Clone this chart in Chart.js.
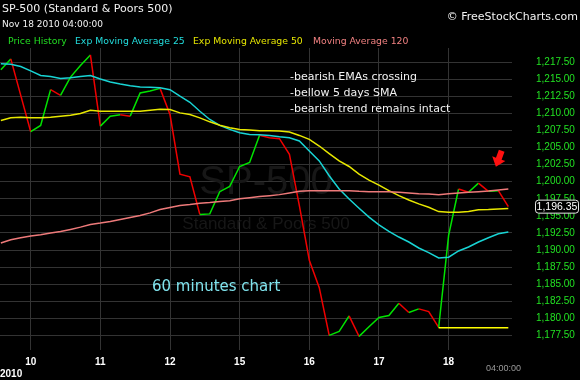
<!DOCTYPE html>
<html lang="en">
  <head>
    <meta charset="UTF-8" />
    <title>SP-500 60 minutes chart</title>
    <style>
      html,
      body {
        margin: 0;
        padding: 0;
        background: #000;
      }
      .chart-box {
        position: relative;
        width: 580px;
        height: 380px;
      }
    </style>
  </head>
  <body>
    <div class="chart-box"><canvas id="spChart"></canvas></div>

    <script src="https://cdn.jsdelivr.net/npm/chart.js"></script>
    <script>
      // trading days shown (Nov 2010), 7 hourly bars each, 3 bars of the 9th before
      const days = ["10", "11", "12", "15", "16", "17", "18"];
      const barsPerDay = 7;
      const firstDayBar = 3;

      const yTicks = [
        1177.5, 1180, 1182.5, 1185, 1187.5, 1190, 1192.5, 1195, 1197.5, 1200,
        1202.5, 1205, 1207.5, 1210, 1212.5, 1215, 1217.5,
      ];

      const price = [
        1216.38, 1217.98, 1212.65, 1207.32, 1208.24, 1213.48, 1212.65, 1215.32, 1217.02, 1218.57,
        1208.14, 1209.6, 1209.8, 1209.6, 1212.99, 1213.28, 1213.67, 1209.84, 1201.11, 1200.72,
        1195.2, 1195.29, 1198.54, 1199.32, 1202.23, 1202.81, 1206.8, 1206.45, 1206.3, 1204.02,
        1196.5, 1188.51, 1184.48, 1177.5, 1178.08, 1180.36, 1177.35, 1178.76, 1180.12, 1180.41,
        1182.2, 1180.85, 1181.38, 1180.99, 1178.66, 1192.14, 1198.93, 1198.45, 1199.8, 1198.59,
        1198.69, 1196.35,
      ];

      const ema25 = [
        1217.26, 1217.21, 1216.87, 1216.24, 1215.56, 1215.42, 1215.12, 1215.22, 1215.42, 1215.56,
        1215.03, 1214.59, 1214.3, 1214.06, 1213.86, 1213.82, 1213.77, 1213.48, 1212.52, 1211.63,
        1210.32, 1209.11, 1208.24, 1207.66, 1207.17, 1206.93, 1206.88, 1206.78, 1206.59, 1206.45,
        1205.96, 1204.51, 1203.05, 1200.87, 1198.93, 1197.48, 1196.12, 1194.81, 1193.69, 1192.72,
        1191.9, 1191.17, 1190.3, 1189.62, 1188.84, 1188.94, 1189.86, 1190.44, 1191.17, 1191.8,
        1192.38, 1192.63,
      ];

      const ema50 = [
        1208.97, 1209.35, 1209.45, 1209.35, 1209.35, 1209.45, 1209.6, 1209.74, 1209.98, 1210.47,
        1210.32, 1210.32, 1210.32, 1210.32, 1210.32, 1210.47, 1210.61, 1210.57, 1210.08, 1209.84,
        1209.35, 1208.77, 1208.28, 1207.9, 1207.66, 1207.56, 1207.46, 1207.46, 1207.42, 1207.27,
        1206.78, 1206.2, 1205.23, 1204.12, 1203.05, 1202.23, 1201.11, 1200.24, 1199.51, 1198.69,
        1197.96, 1197.33, 1196.75, 1196.26, 1195.63, 1195.53, 1195.53, 1195.63, 1195.88, 1195.92,
        1196.02, 1196.07,
      ];

      const ma120 = [
        1191.03, 1191.51, 1191.8, 1192.05, 1192.24, 1192.48, 1192.72, 1193.02, 1193.35, 1193.74,
        1193.94, 1194.18, 1194.47, 1194.76, 1195.05, 1195.44, 1195.92, 1196.22, 1196.51, 1196.65,
        1196.85, 1196.94, 1197.09, 1197.23, 1197.52, 1197.67, 1197.82, 1197.96, 1198.11, 1198.35,
        1198.59, 1198.69, 1198.69, 1198.69, 1198.69, 1198.69, 1198.59, 1198.54, 1198.54, 1198.54,
        1198.45, 1198.35, 1198.25, 1198.2, 1198.11, 1198.25, 1198.35, 1198.45, 1198.54, 1198.64,
        1198.78, 1198.93,
      ];

      // flat support line drawn from the Nov 17 low
      const supportFrom = 44;
      const supportLevel = 1178.6;

      const notes = [
        "-bearish EMAs crossing",
        "-bellow 5 days SMA",
        "-bearish trend remains intact",
      ];

      const legendItems = [
        { text: "Price History", color: "#22dd22", x: 8 },
        { text: "Exp Moving Average 25", color: "#22dddd", x: 75 },
        { text: "Exp Moving Average 50", color: "#e4e400", x: 193 },
        { text: "Moving Average 120", color: "#f08080", x: 313 },
      ];

      const barIndex = price.map((_, i) => i);
      const dayStarts = days.map((_, k) => firstDayBar + k * barsPerDay);
      const support = barIndex.map((i) => (i >= supportFrom ? supportLevel : null));
      const lastPrice = price[price.length - 1];

      const UP = "#00e400";
      const DOWN = "#f00000";
      const TXT = "DejaVu Sans";
      const AX = "Liberation Sans";

      const overlay = {
        id: "overlay",
        beforeDatasetsDraw(chart) {
          const { ctx, chartArea } = chart;
          const cx = (chartArea.left + chartArea.right) / 2 + 10;
          ctx.save();
          ctx.fillStyle = "#171717";
          ctx.textAlign = "center";
          ctx.textBaseline = "middle";
          ctx.font = "40px " + AX;
          ctx.fillText("SP-500", cx, 183);
          ctx.font = "17px " + AX;
          ctx.fillText("Standard & Poors 500", cx, 224);
          ctx.restore();
        },
        afterDraw(chart) {
          const { ctx } = chart;
          const xs = chart.scales.x;
          const ys = chart.scales.y;
          ctx.save();
          ctx.textBaseline = "middle";
          ctx.textAlign = "left";

          ctx.fillStyle = "#f2f2f2";
          ctx.font = "11px " + TXT;
          ctx.fillText("SP-500 (Standard & Poors 500)", 2, 9);
          ctx.font = "9px " + TXT;
          ctx.fillText("Nov 18 2010 04:00:00", 2, 25);

          ctx.textAlign = "right";
          ctx.font = "11px " + TXT;
          ctx.fillText("\u00a9 FreeStockCharts.com", 578, 17);

          ctx.textAlign = "left";
          ctx.font = "9.3px " + TXT;
          legendItems.forEach((it) => {
            ctx.fillStyle = it.color;
            ctx.fillText(it.text, it.x, 42);
          });

          ctx.fillStyle = "#f2f2f2";
          ctx.font = "11px " + TXT;
          notes.forEach((t, i) => ctx.fillText(t, 290, 77 + i * 16));

          ctx.fillStyle = "#80e4ee";
          ctx.font = "15px " + TXT;
          ctx.fillText("60 minutes chart", 152, 287);

          ctx.fillStyle = "#ffffff";
          ctx.font = "bold 10px " + AX;
          ctx.fillText("2010", 0, 374);
          ctx.fillStyle = "#9a9a9a";
          ctx.font = "9px " + AX;
          ctx.fillText("04:00:00", 486, 369);

          // red arrow pointing at the last bars
          const tx = xs.getPixelForValue(49.75);
          const ty = ys.getPixelForValue(1202.2);
          ctx.translate(tx, ty);
          ctx.rotate((20 * Math.PI) / 180);
          ctx.fillStyle = "#ff1010";
          ctx.beginPath();
          ctx.moveTo(0, 0);
          ctx.lineTo(-7, -8.5);
          ctx.lineTo(-3, -8.5);
          ctx.lineTo(-3, -17);
          ctx.lineTo(3, -17);
          ctx.lineTo(3, -8.5);
          ctx.lineTo(7, -8.5);
          ctx.closePath();
          ctx.fill();
          ctx.setTransform(1, 0, 0, 1, 0, 0);

          // current value tag
          const vy = ys.getPixelForValue(lastPrice);
          ctx.fillStyle = "#000";
          ctx.strokeStyle = "#e8e8e8";
          ctx.lineWidth = 1;
          ctx.beginPath();
          ctx.roundRect(535.5, vy - 6.5, 43, 13, 3);
          ctx.fill();
          ctx.stroke();
          ctx.fillStyle = "#ffffff";
          ctx.textAlign = "center";
          ctx.font = "10.5px " + AX;
          ctx.fillText(
            lastPrice.toLocaleString("en-US", { minimumFractionDigits: 2 }),
            557,
            vy + 0.5
          );
          ctx.restore();
        },
      };

      const line = (label, data, color) => ({
        label,
        data,
        borderColor: color,
        borderWidth: 1.5,
        pointRadius: 0,
        tension: 0,
        fill: false,
      });

      new Chart(document.getElementById("spChart"), {
        type: "line",
        data: {
          labels: barIndex,
          datasets: [
            line("Moving Average 120", ma120, "#ee7a7a"),
            line("Exp Moving Average 50", ema50, "#e8e800"),
            line("Exp Moving Average 25", ema25, "#18d4d4"),
            line("Support", support, "#ffff00"),
            {
              ...line("Price History", price, UP),
              segment: {
                borderColor: (c) => (c.p1.parsed.y >= c.p0.parsed.y ? UP : DOWN),
              },
            },
          ],
        },
        options: {
          responsive: true,
          maintainAspectRatio: false,
          animation: false,
          layout: { padding: { top: 48, left: 0, right: 0, bottom: 0 } },
          plugins: {
            legend: { display: false },
            tooltip: { enabled: false },
          },
          scales: {
            x: {
              type: "linear",
              min: -0.085,
              max: 51.37,
              afterBuildTicks: (s) => {
                s.ticks = dayStarts.map((v) => ({ value: v }));
              },
              afterFit: (s) => {
                s.height = 28;
              },
              grid: { color: "#333333", drawTicks: false },
              border: { display: false },
              ticks: {
                autoSkip: false,
                maxRotation: 0,
                padding: 6,
                color: "#ffffff",
                font: { family: AX, size: 10, weight: "bold" },
                callback: (v, i) => days[i],
              },
            },
            y: {
              position: "right",
              min: 1175.36,
              max: 1219.58,
              afterBuildTicks: (s) => {
                s.ticks = yTicks.map((v) => ({ value: v }));
              },
              afterFit: (s) => {
                s.width = 68;
              },
              grid: { color: "#333333", drawTicks: false },
              border: { display: false },
              ticks: {
                padding: 24,
                color: "#22e022",
                font: { family: AX, size: 10 },
                callback: (v) =>
                  v.toLocaleString("en-US", { minimumFractionDigits: 2 }),
              },
            },
          },
        },
        plugins: [overlay],
      });
    </script>
  </body>
</html>
